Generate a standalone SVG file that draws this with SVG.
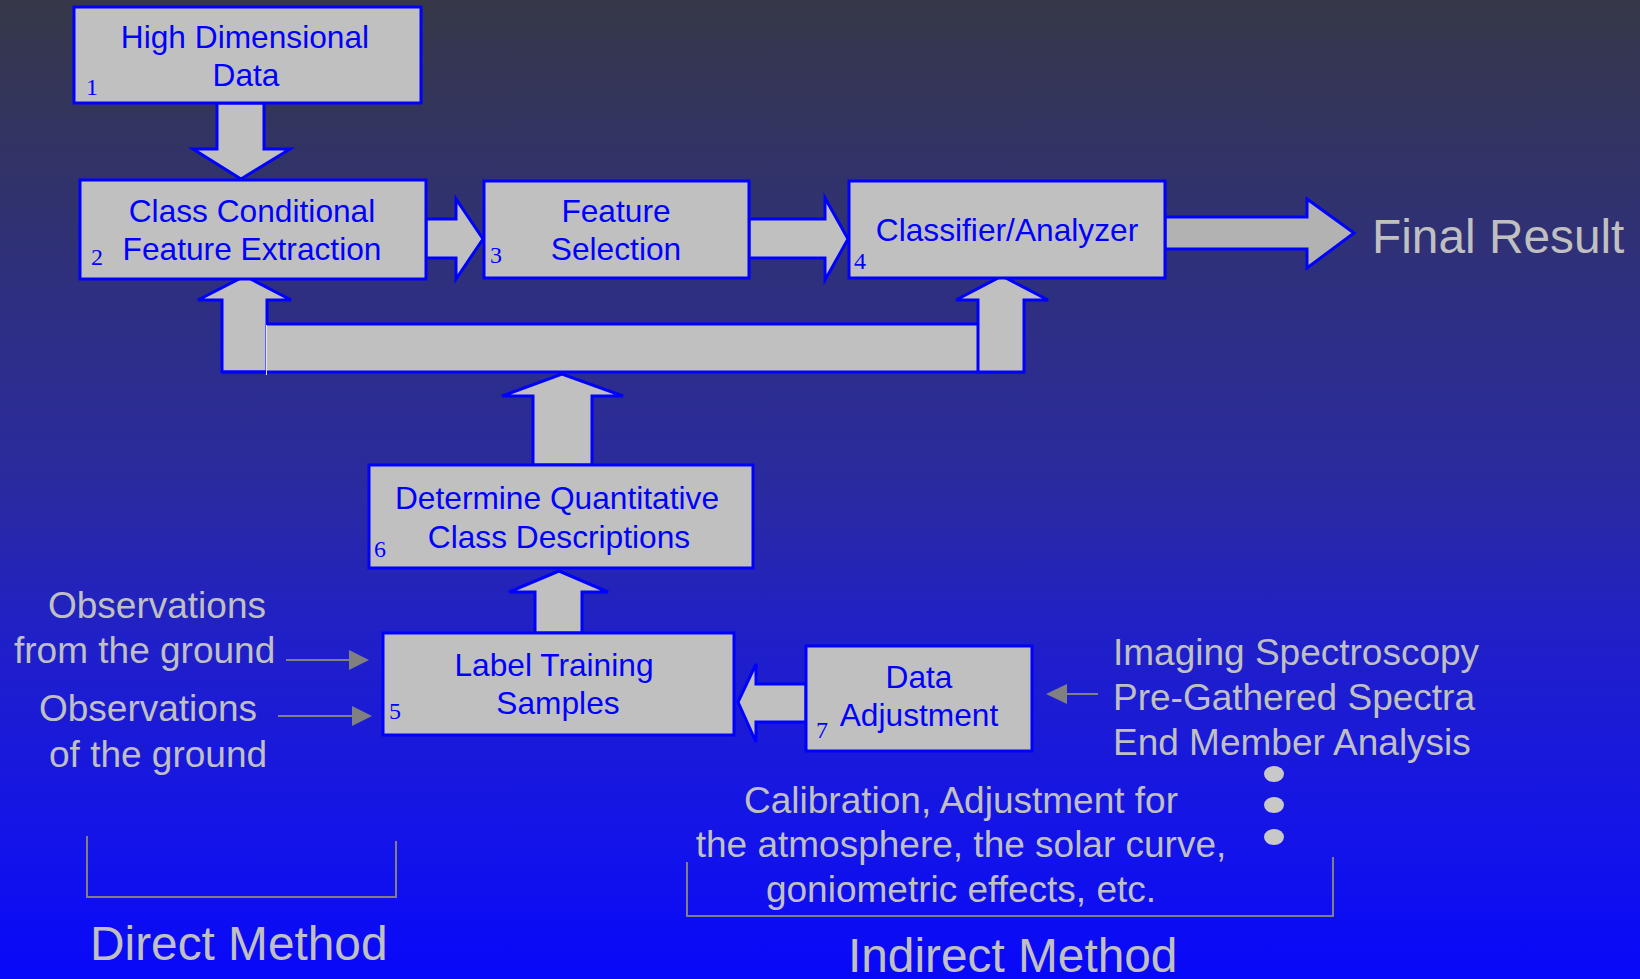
<svg xmlns="http://www.w3.org/2000/svg" width="1640" height="979" viewBox="0 0 1640 979">
<defs>
<linearGradient id="bg" x1="0" y1="0" x2="0" y2="1">
<stop offset="0" stop-color="#363848"/>
<stop offset="0.3" stop-color="#2e2f80"/>
<stop offset="0.5" stop-color="#2a2aa0"/>
<stop offset="0.65" stop-color="#2020c8"/>
<stop offset="0.85" stop-color="#1414e8"/>
<stop offset="1" stop-color="#0808fa"/>
</linearGradient>
</defs>
<style>
.box{fill:#c0c0c0;stroke:#0000ff;stroke-width:3}
.arr{fill:#c0c0c0;stroke:#0000ff;stroke-width:3;stroke-linejoin:miter}
.t{font-family:"Liberation Sans",Arial,sans-serif;font-size:31.7px;fill:#0000ff;text-anchor:middle}
.n{font-family:"Liberation Serif","Times New Roman",serif;font-size:24px;fill:#0000ff}
.g{font-family:"Liberation Sans",Arial,sans-serif;font-size:37px;fill:#c0c0c0}
.big{font-family:"Liberation Sans",Arial,sans-serif;font-size:47.8px;fill:#c0c0c0}
.gl{stroke:#808080;stroke-width:2;fill:none}
.gh{fill:#808080}
</style>
<rect x="0" y="0" width="1640" height="979" fill="url(#bg)"/>

<g id="connectors">
<polygon class="arr" points="217,103 264,103 264,149 290,149 241,179 193,149 217,149"/>
<polygon class="arr" points="426,219 456,219 456,199 483,239 456,279 456,258 426,258"/>
<polygon class="arr" points="749,219 825,219 825,198 848,239 825,280 825,258 749,258"/>
<polygon class="arr" style="fill:#b2b2b2" points="1165,217 1307,217 1307,199 1354,233 1307,268 1307,249 1165,249"/>
<polygon class="arr" points="222,372 222,300 198,300 245,276 291,300 267,300 267,372"/>
<rect x="266" y="324" width="712" height="48" fill="#c0c0c0"/>
<line x1="266" y1="324" x2="978" y2="324" stroke="#0000ff" stroke-width="3"/>
<line x1="222" y1="372" x2="1024" y2="372" stroke="#0000ff" stroke-width="3"/>
<line x1="266.5" y1="325" x2="266.5" y2="375" stroke="#e4e4ec" stroke-width="1"/>
<polygon class="arr" points="978,372 978,300 956,300 1002,276 1048,300 1024,300 1024,372"/>
<polygon class="arr" points="533,465 533,396 502,396 562,374 623,396 592,396 592,465"/>
<polygon class="arr" points="535,633 535,592 509,592 559,571 608,592 582,592 582,633"/>
<polygon class="arr" points="806,684 756,684 756,664 738,702 756,742 756,722 806,722"/>
<line class="gl" x1="286" y1="660" x2="352" y2="660"/>
<polygon class="gh" points="349,650 369,660 349,670"/>
<line class="gl" x1="278" y1="716" x2="355" y2="716"/>
<polygon class="gh" points="352,706 372,716 352,726"/>
<line class="gl" x1="1098" y1="694" x2="1064" y2="694"/>
<polygon class="gh" points="1067,684 1046,694 1067,704"/>
</g>

<g id="node1">
<rect class="box" x="74" y="7" width="347" height="96"/>
<text class="t" x="245" y="48">High Dimensional</text>
<text class="t" x="246" y="86">Data</text>
<text class="n" x="86" y="95">1</text>
</g>
<g id="node2">
<rect class="box" x="80" y="180" width="346" height="99"/>
<text class="t" x="252" y="222">Class Conditional</text>
<text class="t" x="252" y="260">Feature Extraction</text>
<text class="n" x="91" y="265">2</text>
</g>
<g id="node3">
<rect class="box" x="484" y="181" width="265" height="97"/>
<text class="t" x="616" y="222">Feature</text>
<text class="t" x="616" y="260">Selection</text>
<text class="n" x="490" y="263">3</text>
</g>
<g id="node4">
<rect class="box" x="849" y="181" width="316" height="97"/>
<text class="t" x="1007" y="241">Classifier/Analyzer</text>
<text class="n" x="854" y="269">4</text>
</g>
<g id="final">
<text class="big" x="1372" y="253">Final Result</text>
</g>
<g id="node6">
<rect class="box" x="369" y="465" width="384" height="103"/>
<text class="t" x="557" y="509">Determine Quantitative</text>
<text class="t" x="559" y="548">Class Descriptions</text>
<text class="n" x="374" y="557">6</text>
</g>
<g id="node5">
<rect class="box" x="383" y="633" width="351" height="102"/>
<text class="t" x="554" y="676">Label Training</text>
<text class="t" x="558" y="714">Samples</text>
<text class="n" x="389" y="719">5</text>
</g>
<g id="node7">
<rect class="box" x="806" y="646" width="226" height="105"/>
<text class="t" x="919" y="688">Data</text>
<text class="t" x="919" y="726">Adjustment</text>
<text class="n" x="816" y="738">7</text>
</g>
<g id="obs">
<text class="g" x="48" y="618">Observations</text>
<text class="g" x="14" y="663">from the ground</text>
<text class="g" x="39" y="721">Observations</text>
<text class="g" x="49" y="767">of the ground</text>
</g>
<g id="sources">
<text class="g" x="1113" y="665">Imaging Spectroscopy</text>
<text class="g" x="1113" y="710">Pre-Gathered Spectra</text>
<text class="g" x="1113" y="755">End Member Analysis</text>
<ellipse cx="1274" cy="774" rx="10" ry="8" fill="#c8c8c8"/>
<ellipse cx="1274" cy="805" rx="10" ry="8" fill="#c8c8c8"/>
<ellipse cx="1274" cy="837" rx="10" ry="8" fill="#c8c8c8"/>
</g>
<g id="calib">
<text class="g" x="961" y="813" text-anchor="middle">Calibration, Adjustment for</text>
<text class="g" x="961" y="857" text-anchor="middle">the atmosphere, the solar curve,</text>
<text class="g" x="961" y="902" text-anchor="middle">goniometric effects, etc.</text>
</g>
<g id="direct">
<polyline class="gl" points="87,836 87,897 396,897 396,841"/>
<text class="big" x="90" y="960">Direct Method</text>
</g>
<g id="indirect">
<polyline class="gl" points="687,862 687,916 1333,916 1333,857"/>
<text class="big" x="848" y="972">Indirect Method</text>
</g>
</svg>
